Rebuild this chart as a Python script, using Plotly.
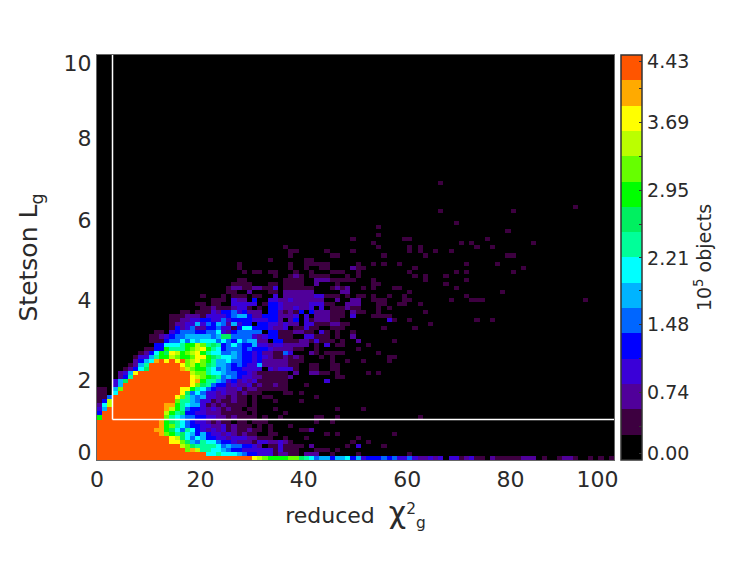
import numpy as np
import plotly.graph_objects as go

FONT = "DejaVu Sans"
INK = "#2a2a2a"

# Colour bands of the 16-level scale, lowest first
band_colors = ["#000000", "#3d0040", "#50009a", "#3a00d8", "#0000ff", "#0066ff", "#00b4ff", "#00ffff",
               "#00ff99", "#00f060", "#00ff00", "#66ff00", "#bbff00", "#ffff00", "#ffaa00", "#ff5500"]
z_max = 4.43

# Saturated core of the distribution: first and one-past-last chi2 bin for each Stetson bin
core_start = [0, 0, 0, 0, 0, 0, 0, 0, 0, 0, 1, 1, 2, 3, 3, 3, 4, 5, 5, 6, 7, 8, 10, 10]
core_end = [30, 21, 17, 16, 14, 14, 12, 11, 12, 12, 13, 13, 13, 13, 15, 15, 16, 16, 18, 18, 18, 18, 16, 16]

# Level of each bin (hex digit = colour band), keyed by first chi2 bin
row_00 = {30: "dcbaaaabb987566466746344454533532232303312311021111122201001221001 0101"}
row_01 = {21: "7787776544333122110222001", 50: "1", 60: "1"}
row_02 = {17: "bec88776544333333131110001110 1"}
row_03 = {16: "cb98888756554432011311110 2", 48: "103", 55: "1"}
row_04 = {14: "ddb965877544322213322321", 49: "1", 52: "1"}
row_05 = {14: "dc97576443323332211100 1", 40: "1", 50: "1"}
row_06 = {12: "eba89764643323212110011", 44: "1", 46: "1", 57: "1"}
row_07 = {11: "eea9758743232312112110 1", 39: "112"}
row_08 = {12: "eab8754433223121110101", 37: "1"}
row_09 = {12: "ea98754332121101101 11", 42: "1", 45: "1"}
row_10 = {0: "a", 13: "b87655443322121111", 32: "1", 35: "1", 42: "11", 46: "1", 62: "1"}
row_11 = {0: "4", 13: "ca894433222111110 1", 36: "1"}
row_12 = {0: "36", 13: "eca85443232121 1011", 34: "1", 46: "1", 51: "1"}
row_13 = {0: "27c", 13: "eea87663121211110 1"}
row_14 = {0: "14c", 15: "b8865331211211 01", 34: "1", 39: "1"}
row_15 = {0: "115", 15: "db865633221211 01", 32: "11", 42: "1"}
row_16 = {0: "1107", 16: "d95753323221 2111", 36: "11", 39: "1"}
row_17 = {0: "11", 3: "6b", 16: "dda87543322 31221", 32: "11111"}
row_18 = {3: "36", 18: "db98544232 2312", 32: "11211", 40: "1"}
row_19 = {3: "369", 18: "dea8865342 3231", 32: "11111", 44: "3"}
row_20 = {4: "248", 18: "dcba98565433 22", 32: "111112", 46: "11"}
row_21 = {4: "236d", 18: "cbb8776554 4321", 32: "11111", 38: "2", 41: "2211", 46: "1", 52: "1", 54: "1"}
row_22 = {5: "12479", 16: "ecbaa8756 544333", 31: "30323331", 41: "11", 45: "11"}
row_23 = {6: "1268", 16: "dbcab98665 45433", 31: "62222211", 41: "11", 45: "11"}
row_24 = {7: "2467efdfdfbcdba8667554434222221 11", 45: "1", 48: "1", 51: "1", 56: "1"}
row_25 = {7: "13368aacbaabdda987765443432112121", 43: "1", 45: "1", 56: "11"}
row_26 = {8: "1247a9dcabcda87755654434221153", 41: "21", 44: "1111", 54: "1"}
row_27 = {9: "1144a888abcda874555454443222211", 42: "1", 50: "1"}
row_28 = {11: "44777 8aacb89845754 4 6 33 2 33 22222 0 1 0 3 0 11", 52: "1"}
row_29 = {10: "111455757 67775754 7 5 66 22 0 44 111 22 1 3 111 0 1 00 2", 57: "1"}
row_30 = {10: "112345566666 569 955553 2 344 111 00 33 111 0 1 00 2"}
row_31 = {11: "11034555 44 55 7 3 2 4 5 5 5 5 5 0 4 4 1 1 1 2 2 1 1 0 3 1", 46: "1", 49: "1"}
row_32 = {14: "1423522 4 4 5 3 3 1 4 7 7 4 4 4 3 2 2 3 0 1 1 3 1 1 0 0 1 1 1", 55: "1", 61: "1"}
row_33 = {14: "122336354 6 5 2 6 3 4 4 0 4 4 3 3 2 3 2 2 0 3 3 1 1 1 2 2 1 1", 64: "1"}
row_34 = {14: "1122334 4 3 3 5 3 4 4 4 4 3 3 3 4 4 2 0 2 4 0 3 1 2 2 2 1 1", 56: "31", 60: "1", 73: "1", 76: "1"}
row_35 = {14: "111222 1 3 3 3 3 4 5 6 6 4 2 2 4 4 4 2 2 2 3 0 3 0 2 2 2 1 1 1 0 3", 53: "1111"}
row_36 = {16: "110111 3 2 4 4 5 3 4 2 2 2 0 4 4 2 1 2 1 4 0 4 2 2 2 1 1 1 0 2 1 1", 54: "1", 63: "1"}
row_37 = {20: "112111 2 3 3 1 0 1 0 4 4 3 2 2 3 2 2 3 0 3 0 1 1 1 2 1 1", 54: "1", 56: "1"}
row_38 = {19: "110110 0 3 3 3 3 3 0 1 4 4 3 2 2 2 2 2 3 3 3 1 1 0 0 2 2 2", 54: "11", 58: "11", 62: "1"}
row_39 = {22: "11103 2 2 0 4 0 0 3 3 2 2 3 2 2 2 2 2 2 0 0 2 0 0 2 2", 53: "111", 59: "11", 68: "1", 72: "111", 94: "1"}
row_40 = {20: "1", 24: "1", 26: "1110 11 0 0 3 0 2 2 2 2 2 2 3 3 1 1 1 0 1", 50: "11", 53: "1", 56: "1", 59: "1", 71: "1"}
row_41 = {25: "11", 29: "2", 33: "11", 36: "222222", 47: "22", 60: "1", 78: "1"}
row_42 = {25: "1221 1 2 2 1", 33: "13", 36: "111111", 45: "1212", 51: "1", 53: "1", 57: "11", 69: "1"}
row_43 = {26: "1111", 33: "11", 36: "1111", 42: "2", 46: "1", 53: "11", 67: "1"}
row_44 = {27: "11", 36: "1111", 42: "222", 45: "11111", 53: "1", 63: "1", 71: "1"}
row_45 = {34: "1", 37: "121", 41: "1", 42: "111", 48: "1", 50: "1", 61: "1", 63: "1", 67: "1"}
row_46 = {28: "1", 30: "11", 33: "11", 38: "1", 41: "1", 45: "111", 50: "1", 60: "1", 69: "1", 71: "1", 80: "1"}
row_47 = {27: "1", 37: "1", 40: "1", 43: "11", 49: "211", 61: "1", 82: "1"}
row_48 = {27: "1", 37: "1", 40: "11", 42: "111", 50: "1", 53: "1", 55: "1", 58: "1", 71: "1", 77: "1"}
row_49 = {33: "1", 40: "11"}
row_50 = {37: "1", 45: "11", 55: "1", 63: "1", 79: "11"}
row_51 = {37: "11", 44: "1", 49: "1", 60: "1", 62: "1", 65: "1", 68: "1"}
row_52 = {36: "1", 54: "1", 60: "1", 62: "1", 73: "1", 76: "1"}
row_53 = {53: "1", 70: "1", 72: "1", 84: "1"}
row_54 = {49: "1", 59: "11", 75: "1"}
row_55 = {54: "1"}
row_56 = {79: "1"}
row_57 = {54: "1"}
row_58 = {69: "1"}
row_61 = {66: "1", 80: "1"}
row_62 = {92: "1"}
row_68 = {66: "1"}

# Axis labels; the end labels sit just inside the frame, as in the reference
x_tick_positions = [0, 20, 40, 60, 80, 96.8]
x_tick_labels = ["0", "20", "40", "60", "80", "100"]
y_tick_positions = [0.2, 1.97, 3.95, 5.93, 7.95, 9.8]
y_tick_labels = ["0", "2", "4", "6", "8", "10"]
cbar_tick_values = [0.07, 0.37, 0.74, 1.11, 1.48, 1.85, 2.21, 2.58, 2.95, 3.32, 3.69, 4.06, 4.36]
cbar_tick_labels = ["0.00", "", "0.74", "", "1.48", "", "2.21", "", "2.95", "", "3.69", "", "4.43"]

selection_chi2 = 3
selection_stetson = 1

nbins = 100
levels = np.zeros((nbins, nbins))
for r in range(nbins):
    row = globals().get(f"row_{r:02d}", {})
    for col, text in row.items():
        digits = text.replace(" ", "")
        for k, ch in enumerate(digits):
            if col + k < nbins:
                levels[r, col + k] = int(ch, 16)
for r, (a, b) in enumerate(zip(core_start, core_end)):
    levels[r, a:b] = 15
n_bands = len(band_colors)
z = np.where(levels > 0, (levels + 0.5) * z_max / n_bands, 0.0)

chi2_centres = np.arange(nbins) + 0.5
stetson_centres = (np.arange(nbins) + 0.5) * 0.1

colorscale = []
for i, c in enumerate(band_colors):
    colorscale += [[i / n_bands, c], [(i + 1) / n_bands, c]]

fig = go.Figure(go.Heatmap(
    x=chi2_centres, y=stetson_centres, z=z, zmin=0, zmax=z_max,
    colorscale=colorscale, hoverinfo="skip",
    colorbar=dict(
        x=1.0135, xanchor="left", y=0, yanchor="bottom", len=1, lenmode="fraction",
        thickness=21, thicknessmode="pixels", xpad=0, ypad=0,
        outlinewidth=1.5, outlinecolor="#333333",
        tickmode="array", tickvals=cbar_tick_values, ticktext=cbar_tick_labels,
        ticks="inside", ticklen=3, tickcolor="#333333", tickwidth=1,
        tickfont=dict(family=FONT, size=19, color=INK),
        title=dict(text="10<sup>5</sup> objects", side="right",
                   font=dict(family=FONT, size=19, color=INK)),
    ),
))

line = dict(color="white", width=1.5)
fig.add_shape(type="line", x0=selection_chi2, x1=100, y0=selection_stetson, y1=selection_stetson, line=line)
fig.add_shape(type="line", x0=selection_chi2, x1=selection_chi2, y0=selection_stetson, y1=10, line=line)

axis_common = dict(showgrid=False, zeroline=False, showline=True, mirror=True, linecolor="#666666",
                   linewidth=1, ticks="", tickmode="array",
                   tickfont=dict(family=FONT, size=22, color=INK))
fig.update_xaxes(range=[0, 100], tickvals=x_tick_positions, ticktext=x_tick_labels,
                 title=dict(text="reduced  <span style='font-size:30px'>χ</span><sup>2</sup><sub>g</sub>",
                            font=dict(family=FONT, size=22, color=INK), standoff=16), **axis_common)
fig.update_yaxes(range=[0, 10], tickvals=y_tick_positions, ticktext=y_tick_labels,
                 title=dict(text="Stetson L<sub>g</sub>",
                            font=dict(family=FONT, size=25, color=INK), standoff=18), **axis_common)
fig.update_layout(width=747, height=561, autosize=False, paper_bgcolor="white", plot_bgcolor="black",
                  margin=dict(l=89, r=141, t=47, b=109), showlegend=False)
fig.write_html("out.html")
